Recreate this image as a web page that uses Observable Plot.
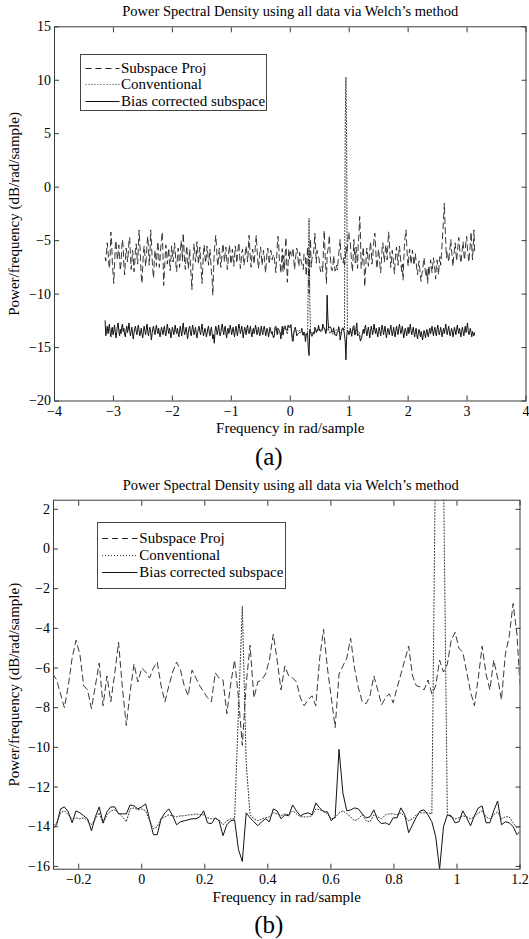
<!DOCTYPE html>
<html>
<head>
<meta charset="utf-8">
<script src="https://cdn.jsdelivr.net/npm/d3@7"></script>
<script src="https://cdn.jsdelivr.net/npm/@observablehq/plot@0.6"></script>
<style>
  html, body { margin: 0; padding: 0; background: #fff; }
  #fig { position: relative; width: 529px; height: 939px; overflow: hidden;
         font-family: "Liberation Serif", "Times New Roman", serif; color: #000; }
  .panel { position: absolute; left: 0; }
  .legend { position: absolute; background: #fff; border: 1px solid #444; box-sizing: border-box; }
  .legend .row { position: absolute; left: 0; height: 18px; display: flex; align-items: center; }
  .legend .row span { font-size: 15px; line-height: 18px; white-space: nowrap; }
  .legend svg { display: block; }
</style>
</head>
<body>
<div id="fig"></div>
<script>
// ---------------- data ----------------
// frequency grid: nfft points from -pi to pi (bin k -> k*2*pi/nfft)
const nfft = 512;
const firstBin = -256;

const seriesNames = ["Subspace Proj", "Conventional", "Bias corrected subspace"];
const plotTitle = "Power Spectral Density using all data via Welch\u2019s method";
const xLabel = "Frequency in rad/sample";
const yLabel = "Power/frequency (dB/rad/sample)";
const panelTags = ["(a)", "(b)"];

// Subspace projection PSD (dB/rad/sample), bins -256 .. 255
const subspaceProj = [
  -6.6,-6.9,-6.0,-5.2,-5.9,-7.1,-7.6,-6.4,-4.2,-5.1,
  -7.0,-8.1,-9.0,-7.4,-5.6,-5.0,-5.9,-6.8,-6.2,-5.4,
  -6.5,-7.8,-7.2,-5.8,-4.9,-5.6,-7.3,-8.2,-6.9,-5.7,
  -6.1,-7.0,-6.3,-5.0,-4.7,-6.2,-7.7,-7.0,-5.9,-6.6,
  -7.9,-7.1,-5.8,-5.3,-6.4,-7.2,-5.6,-4.0,-5.2,-6.8,
  -8.3,-9.0,-7.5,-6.1,-5.5,-6.3,-7.4,-6.6,-5.3,-4.6,
  -5.8,-7.3,-6.2,-4.0,-4.9,-6.6,-7.8,-8.5,-7.0,-5.9,
  -6.5,-7.4,-6.0,-5.1,-6.1,-7.5,-6.8,-5.6,-4.9,-4.2,
  -6.3,-9.2,-8.0,-6.6,-5.4,-6.0,-7.2,-6.5,-5.7,-6.9,
  -7.8,-6.7,-5.5,-6.2,-7.0,-6.1,-5.2,-5.9,-7.3,-7.9,
  -6.6,-5.7,-6.4,-7.5,-6.3,-5.0,-5.6,-6.9,-4.3,-5.6,
  -7.1,-7.7,-6.2,-5.5,-6.7,-7.6,-6.8,-5.8,-7.4,-8.3,
  -9.6,-8.0,-6.4,-5.3,-6.0,-7.0,-6.5,-5.1,-5.9,-7.2,
  -6.6,-5.6,-6.8,-7.8,-9.0,-7.6,-6.1,-5.4,-6.3,-7.1,
  -6.4,-5.5,-6.2,-7.3,-6.7,-5.8,-6.9,-7.9,-8.6,-10.1,
  -7.6,-6.0,-5.2,-4.5,-5.5,-6.8,-7.4,-6.3,-5.7,-6.6,
  -7.5,-6.9,-5.9,-5.3,-6.1,-7.0,-6.2,-5.6,-6.5,-7.7,
  -7.0,-6.0,-5.4,-6.3,-7.2,-6.6,-5.8,-6.7,-7.4,-6.4,
  -5.5,-6.0,-7.1,-6.5,-5.7,-5.2,-6.4,-7.6,-7.0,-6.1,
  -5.8,-6.6,-7.3,-6.8,-6.0,-5.5,-6.2,-7.0,-5.9,-4.5,
  -5.6,-6.9,-7.5,-6.4,-5.8,-6.5,-7.2,-6.3,-5.2,-4.5,
  -5.7,-6.8,-7.6,-7.0,-6.1,-5.6,-6.4,-7.3,-6.7,-5.9,
  -6.3,-7.4,-8.0,-6.9,-6.0,-5.7,-6.6,-7.2,-6.4,-5.9,
  -6.2,-6.8,-6.5,
  // bins -23 .. 98 (zoomed window)
  -6.3,-6.6,-7.3,-8.0,-6.9,-5.5,-4.6,-5.3,-6.9,-7.1,
  -8.05,-6.9,-5.75,-7.9,-6.4,-7.7,-6.3,-4.7,-7.0,-8.9,
  -7.2,-5.8,-6.7,-6.0,-6.2,-6.5,-6.0,-5.7,-6.9,-7.7,
  -6.9,-6.2,-5.7,-6.1,-6.9,-7.4,-6.1,-6.5,-6.9,-7.2,
  -7.5,-7.7,-6.25,-6.5,-6.6,-8.3,-6.8,-5.6,-7.5,-9.9,
  -6.8,-4.85,-7.5,-6.7,-6.6,-6.3,-5.6,-4.3,-5.6,-7.1,
  -5.9,-6.4,-6.5,-6.7,-7.5,-7.9,-7.6,-7.4,-7.9,-5.5,
  -4.05,-6.0,-7.5,-9.0,-6.3,-5.9,-5.5,-4.5,-6.0,-7.0,
  -7.7,-7.8,-7.4,-6.4,-7.1,-7.85,-7.5,-7.3,-7.75,-7.0,
  -6.3,-5.6,-4.9,-6.4,-6.9,-6.95,-7.1,-6.6,-7.3,-6.9,
  -5.6,-6.2,-5.8,-4.6,-4.2,-5.0,-5.2,-6.2,-7.2,-7.9,
  -6.5,-4.9,-6.3,-7.1,-5.6,-6.5,-7.6,-5.3,-4.4,-2.75,
  -4.3,-7.6,
  // bins 99 .. 255
  -7.2,-6.4,-5.6,-7.1,-9.3,-8.0,-6.5,-5.7,-6.3,-7.4,
  -6.8,-5.9,-5.1,-6.0,-7.2,-6.6,-5.5,-4.8,-4.3,-5.6,
  -6.9,-7.6,-6.7,-5.8,-6.4,-7.3,-8.0,-6.9,-5.7,-5.2,
  -6.1,-7.0,-6.3,-5.4,-5.9,-6.8,-5.3,-4.2,-5.0,-6.4,
  -7.5,-6.8,-5.9,-6.5,-7.4,-8.1,-7.0,-6.0,-5.6,-6.6,
  -7.3,-6.2,-5.5,-6.3,-7.1,-7.9,-7.2,-8.7,-6.8,-5.2,
  -4.6,-4.0,-5.3,-6.7,-7.4,-6.5,-5.8,-6.4,-7.2,-6.6,
  -5.9,-6.5,-7.3,-6.8,-6.2,-7.0,-7.7,-8.2,-7.4,-6.9,
  -7.6,-8.4,-8.8,-8.1,-7.9,-7.1,-6.6,-7.3,-8.1,-8.4,
  -7.7,-9.0,-7.4,-8.3,-7.6,-6.8,-7.2,-8.0,-7.3,-6.6,
  -7.1,-7.8,-8.6,-7.4,-6.8,-7.5,-8.2,-7.0,-6.5,-7.3,
  -6.4,-5.3,-4.1,-2.9,-1.5,-3.4,-5.2,-6.6,-6.0,-6.4,
  -7.0,-6.3,-5.6,-4.9,-5.8,-6.7,-7.4,-6.5,-5.9,-5.2,
  -6.0,-6.9,-6.2,-5.4,-4.7,-5.5,-6.6,-7.1,-6.4,-5.7,
  -5.1,-6.2,-6.8,-5.9,-5.0,-4.6,-5.7,-6.5,-7.0,-6.1,
  -5.3,-4.2,-5.6,-6.8,-5.5,-4.0,-6.3
];

// Bias corrected subspace PSD, bins -256 .. 255
const biasCorrected = [
  -12.5,-13.9,-13.4,-13.0,-13.7,-13.2,-12.8,-13.6,-14.0,-13.3,
  -13.1,-13.8,-13.4,-12.9,-13.5,-14.1,-13.6,-13.0,-12.7,-13.4,
  -13.9,-13.3,-13.7,-13.1,-12.8,-13.5,-13.2,-13.8,-14.0,-13.4,
  -13.0,-13.6,-13.3,-12.7,-13.4,-13.9,-13.5,-13.1,-13.7,-14.2,
  -13.6,-13.2,-13.0,-13.5,-13.8,-13.3,-12.9,-13.4,-13.9,-13.6,
  -13.2,-13.7,-14.1,-13.5,-13.0,-13.4,-13.8,-13.3,-12.8,-13.5,
  -13.9,-13.4,-13.1,-13.6,-14.3,-13.7,-13.2,-13.0,-13.5,-13.8,
  -13.3,-12.9,-13.4,-13.7,-13.2,-13.6,-14.0,-13.5,-13.1,-13.4,
  -13.8,-13.3,-13.0,-13.6,-13.9,-13.4,-12.8,-13.3,-13.7,-13.2,
  -13.5,-14.1,-13.6,-13.1,-13.4,-13.8,-13.3,-12.9,-13.5,-13.7,
  -13.2,-13.6,-14.0,-13.4,-13.0,-13.5,-13.9,-13.3,-12.7,-13.4,
  -13.8,-13.5,-13.1,-13.6,-14.2,-13.7,-13.2,-13.0,-13.6,-13.9,
  -13.4,-12.9,-13.3,-13.8,-13.5,-13.1,-13.7,-14.1,-13.6,-13.2,
  -13.0,-13.5,-13.8,-13.3,-12.8,-13.4,-13.9,-13.6,-13.2,-13.5,
  -14.0,-13.7,-13.2,-13.0,-13.6,-13.9,-13.4,-13.1,-13.7,-14.2,
  -13.8,-14.6,-13.5,-13.0,-13.3,-13.8,-13.4,-12.9,-13.5,-13.9,
  -13.6,-13.1,-12.8,-13.4,-13.8,-13.3,-13.0,-13.6,-14.1,-13.5,
  -13.2,-13.7,-13.4,-12.9,-13.3,-13.8,-13.5,-13.1,-13.6,-14.0,
  -13.4,-13.0,-13.5,-13.9,-13.3,-12.8,-13.2,-13.7,-13.4,-13.0,
  -13.6,-14.1,-13.5,-13.1,-13.4,-13.8,-13.2,-12.9,-13.5,-13.7,
  -13.3,-13.0,-13.6,-14.0,-13.5,-13.2,-13.7,-13.4,-12.9,-13.3,
  -13.8,-13.5,-13.1,-13.6,-13.9,-13.4,-13.0,-13.5,-13.8,-13.3,
  -13.0,-13.4,-13.9,-13.6,-13.2,-13.5,-14.0,-13.6,-13.1,-13.4,
  -13.7,-13.5,-13.9,
  // bins -23 .. 98 (zoomed window)
  -14.1,-13.9,-13.1,-13.0,-13.25,-13.8,-13.2,-13.3,-13.45,-13.6,
  -14.2,-13.5,-13.0,-13.8,-13.25,-13.0,-13.0,-13.35,-13.35,-13.35,
  -12.9,-12.95,-13.1,-13.0,-12.85,-13.6,-14.4,-14.4,-13.6,-13.3,
  -13.1,-13.45,-13.9,-13.75,-13.7,-13.65,-13.6,-13.6,-13.5,-13.2,
  -13.8,-13.85,-13.55,-13.7,-14.45,-13.9,-13.7,-13.65,-15.15,-15.75,
  -13.3,-13.55,-13.75,-13.95,-13.75,-13.6,-13.75,-13.1,-13.2,-13.6,
  -13.4,-13.45,-12.9,-13.2,-13.45,-13.35,-13.3,-13.4,-12.8,-13.05,
  -13.25,-13.25,-13.7,-13.5,-10.1,-12.3,-13.2,-13.15,-13.05,-13.1,
  -13.35,-13.55,-13.5,-13.15,-13.65,-13.85,-13.8,-13.9,-13.55,-13.55,
  -13.05,-13.4,-14.3,-13.9,-13.5,-13.2,-13.15,-13.4,-13.75,-14.5,
  -16.15,-14.0,-13.4,-13.45,-13.8,-13.75,-13.2,-13.55,-13.95,-13.45,
  -13.05,-12.95,-13.8,-13.8,-13.2,-12.7,-13.9,-13.75,-13.8,-14.0,
  -14.4,-14.2,
  // bins 99 .. 255
  -14.0,-13.6,-13.3,-13.7,-13.2,-12.9,-13.5,-13.9,-13.4,-13.1,
  -13.6,-14.1,-13.5,-13.0,-13.4,-13.8,-13.3,-12.8,-13.4,-13.7,
  -13.2,-13.6,-14.0,-13.5,-13.1,-13.5,-13.9,-13.4,-12.9,-13.3,
  -13.8,-13.4,-13.0,-13.6,-14.1,-13.6,-13.2,-13.5,-13.8,-13.3,
  -12.9,-13.4,-13.9,-13.5,-13.1,-13.7,-14.0,-13.4,-13.0,-13.5,
  -13.8,-13.2,-12.8,-13.3,-13.7,-13.4,-13.0,-13.6,-14.1,-13.6,
  -13.2,-13.5,-13.9,-13.4,-13.1,-13.7,-13.3,-12.8,-13.4,-13.8,
  -13.5,-13.1,-13.6,-14.0,-13.5,-13.2,-13.8,-14.2,-13.7,-13.3,
  -13.6,-14.0,-13.5,-13.9,-14.3,-13.8,-13.4,-13.7,-14.1,-13.6,
  -13.3,-13.8,-14.0,-13.5,-13.2,-13.7,-13.4,-13.0,-13.5,-13.9,
  -13.4,-13.1,-13.6,-13.9,-13.3,-12.9,-13.4,-13.8,-13.5,-13.1,
  -13.6,-14.0,-13.5,-13.2,-13.7,-13.3,-12.8,-13.4,-13.8,-13.4,
  -13.0,-13.5,-13.9,-13.6,-13.2,-13.5,-14.0,-13.6,-13.1,-13.4,
  -13.8,-13.3,-12.9,-13.4,-13.7,-13.2,-13.6,-14.0,-13.5,-13.1,
  -13.5,-13.9,-13.4,-13.0,-13.6,-13.3,-12.7,-13.4,-13.8,-13.5,
  -13.2,-13.6,-14.0,-13.5,-13.7,-13.9,-13.6
];

// Conventional PSD, bins -23 .. 98 (elsewhere it lies under the bias-corrected curve)
const conventionalFirstBin = -23;
const conventional = [
  -14.0,-13.8,-13.3,-13.2,-13.4,-13.6,-13.55,-13.6,-13.55,-13.7,
  -13.9,-13.6,-13.3,-13.85,-13.4,-13.2,-13.15,-13.3,-13.5,-13.75,
  -13.1,-13.05,-13.15,-13.1,-13.2,-13.7,-14.1,-14.0,-13.6,-13.5,
  -13.4,-13.45,-13.5,-13.45,-13.45,-13.4,-13.4,-13.35,-13.4,-13.4,
  -13.55,-13.6,-13.6,-13.65,-13.9,-13.7,-13.6,-13.6,-8.2,-2.9,
  -10.8,-13.4,-13.6,-13.7,-13.6,-13.55,-13.5,-13.3,-13.35,-13.45,
  -13.35,-13.4,-13.2,-13.35,-13.5,-13.5,-13.5,-13.45,-13.1,-13.15,
  -13.2,-13.35,-13.6,-13.55,-13.3,-13.2,-13.35,-13.5,-13.7,-13.6,
  -13.4,-13.7,-13.75,-13.4,-13.5,-13.6,-13.4,-13.35,-13.35,-13.4,
  -13.3,-13.5,-13.7,-13.6,-13.4,-13.3,-13.3,-13.3,-13.35,6.0,
  10.3,4.0,-13.4,-13.5,-13.6,-13.55,-13.45,-13.5,-13.6,-13.5,
  -13.3,-13.2,-13.5,-13.6,-13.4,-13.25,-13.6,-13.5,-13.5,-13.8,
  -14.05,-14.0
];

// axes
const xDomainA = [-4, 4], yDomainA = [-20, 15];
const xTicksA = [-4, -3, -2, -1, 0, 1, 2, 3, 4];
const yTicksA = [-20, -15, -10, -5, 0, 5, 10, 15];
const xDomainB = [-0.28, 1.2], yDomainB = [-16.14, 2.46];
const xTicksB = [-0.2, 0, 0.2, 0.4, 0.6, 0.8, 1, 1.2];
const yTicksB = [-16, -14, -12, -10, -8, -6, -4, -2, 0, 2];
const zoomBins = [-23, 98];

// ---------------- build rows ----------------
const binFreq = k => k * 2 * Math.PI / nfft;
const toRows = (vals, k0) => vals.map((v, i) => ({k: k0 + i, f: binFreq(k0 + i), v}));
const rowsS = toRows(subspaceProj, firstBin);
const rowsB = toRows(biasCorrected, firstBin);
const rowsC = toRows(conventional, conventionalFirstBin);
const inZoom = r => r.k >= zoomBins[0] && r.k <= zoomBins[1];

const fmt = d3.format("~g");
const blank = () => "";
const AX = "#3a3a3a";

function panel(o) {
  const lineOpts = {x: "f", y: "v", clip: true, curve: "linear"};
  return Plot.plot({
    width: 529, height: o.height,
    marginTop: o.mt, marginBottom: o.mb, marginLeft: o.ml, marginRight: o.mr,
    style: {fontFamily: "'Liberation Serif', 'Times New Roman', serif", fontSize: "14.5px", background: "transparent", color: "#000", overflow: "visible"},
    x: {domain: o.xDomain},
    y: {domain: o.yDomain},
    marks: [
      Plot.line(o.b, {...lineOpts, stroke: "#111", strokeWidth: 1}),
      Plot.line(o.c, {...lineOpts, stroke: "#333", strokeWidth: 1, strokeDasharray: "1,2"}),
      Plot.line(o.s, {...lineOpts, stroke: "#222", strokeWidth: 0.9, strokeDasharray: "6,4"}),
      Plot.frame({stroke: AX, strokeWidth: 1}),
      Plot.axisX({anchor: "bottom", ticks: o.xTicks, tickSize: -5, tickFormat: blank, label: null, stroke: AX}),
      Plot.axisX({anchor: "top", ticks: o.xTicks, tickSize: -5, tickFormat: blank, label: null, stroke: AX}),
      Plot.axisY({anchor: "left", ticks: o.yTicks, tickSize: -5, tickFormat: blank, label: null, stroke: AX}),
      Plot.axisY({anchor: "right", ticks: o.yTicks, tickSize: -5, tickFormat: blank, label: null, stroke: AX}),
      Plot.axisX({anchor: "bottom", ticks: o.xTicks, tickSize: 0, tickPadding: 5, tickFormat: fmt, label: null, fontSize: 14}),
      Plot.axisY({anchor: "left", ticks: o.yTicks, tickSize: 0, tickPadding: 3.5, tickFormat: fmt, label: null, fontSize: 14}),
      Plot.text([plotTitle], {text: d => d, frameAnchor: "top", lineAnchor: "middle", textAnchor: "middle", dy: o.titleDy, dx: o.titleDx, fontSize: 14.5}),
      Plot.text([xLabel], {text: d => d, frameAnchor: "bottom", lineAnchor: "middle", textAnchor: "middle", dy: 27.5, fontSize: 15}),
      Plot.text([yLabel], {text: d => d, frameAnchor: "left", lineAnchor: "middle", textAnchor: "middle", rotate: -90, dx: o.yLabelDx, fontSize: 15}),
      Plot.text([o.tag], {text: d => d, frameAnchor: "bottom", lineAnchor: "middle", textAnchor: "middle", dy: 55.5, dx: o.tagDx, fontSize: 25})
    ]
  });
}

const fig = document.getElementById("fig");

function place(svg, top) {
  const wrap = document.createElement("div");
  wrap.className = "panel";
  wrap.style.top = top + "px";
  wrap.appendChild(svg);
  fig.appendChild(wrap);
}

place(panel({
  height: 470, mt: 26.3, mb: 69.5, ml: 54, mr: 3.5,
  xDomain: xDomainA, yDomain: yDomainA, xTicks: xTicksA, yTicks: yTicksA,
  s: rowsS, b: rowsB, c: rowsC,
  titleDy: -15.2, titleDx: 0, yLabelDx: -40.5, tagDx: -21.5, tag: panelTags[0]
}), 0);

place(panel({
  height: 469, mt: 29.7, mb: 70.3, ml: 53, mr: 9.5,
  xDomain: xDomainB, yDomain: yDomainB, xTicks: xTicksB, yTicks: yTicksB,
  s: rowsS.filter(inZoom), b: rowsB.filter(inZoom), c: rowsC,
  titleDy: -14.7, titleDx: 4, yLabelDx: -39.5, tagDx: -18, tag: panelTags[1]
}), 470);

// ---------------- legends ----------------
const legendStyles = [
  {dash: "6,4", stroke: "#222"},
  {dash: "1,2", stroke: "#333"},
  {dash: null, stroke: "#111"}
];
function legend(box) {
  const el = document.createElement("div");
  el.className = "legend";
  Object.assign(el.style, {left: box.left + "px", top: box.top + "px", width: box.width + "px", height: box.height + "px"});
  seriesNames.forEach((name, i) => {
    const row = document.createElement("div");
    row.className = "row";
    row.style.top = (box.rows[i] - 9) + "px";
    const svg = d3.create("svg").attr("width", box.textX).attr("height", 18);
    svg.append("line")
      .attr("x1", box.lineX0).attr("x2", box.lineX1).attr("y1", 9.5).attr("y2", 9.5)
      .attr("stroke", legendStyles[i].stroke).attr("stroke-width", 1)
      .attr("stroke-dasharray", legendStyles[i].dash);
    row.appendChild(svg.node());
    const t = document.createElement("span");
    t.textContent = name;
    row.appendChild(t);
    el.appendChild(row);
  });
  fig.appendChild(el);
}
legend({left: 79.5, top: 54, width: 187, height: 57, rows: [12.5, 29, 45.8], lineX0: 4.5, lineX1: 38.5, textX: 40.5});
legend({left: 97, top: 522, width: 189, height: 67, rows: [14.5, 31.7, 49.2], lineX0: 4, lineX1: 39.5, textX: 41.3});
</script>
</body>
</html>
